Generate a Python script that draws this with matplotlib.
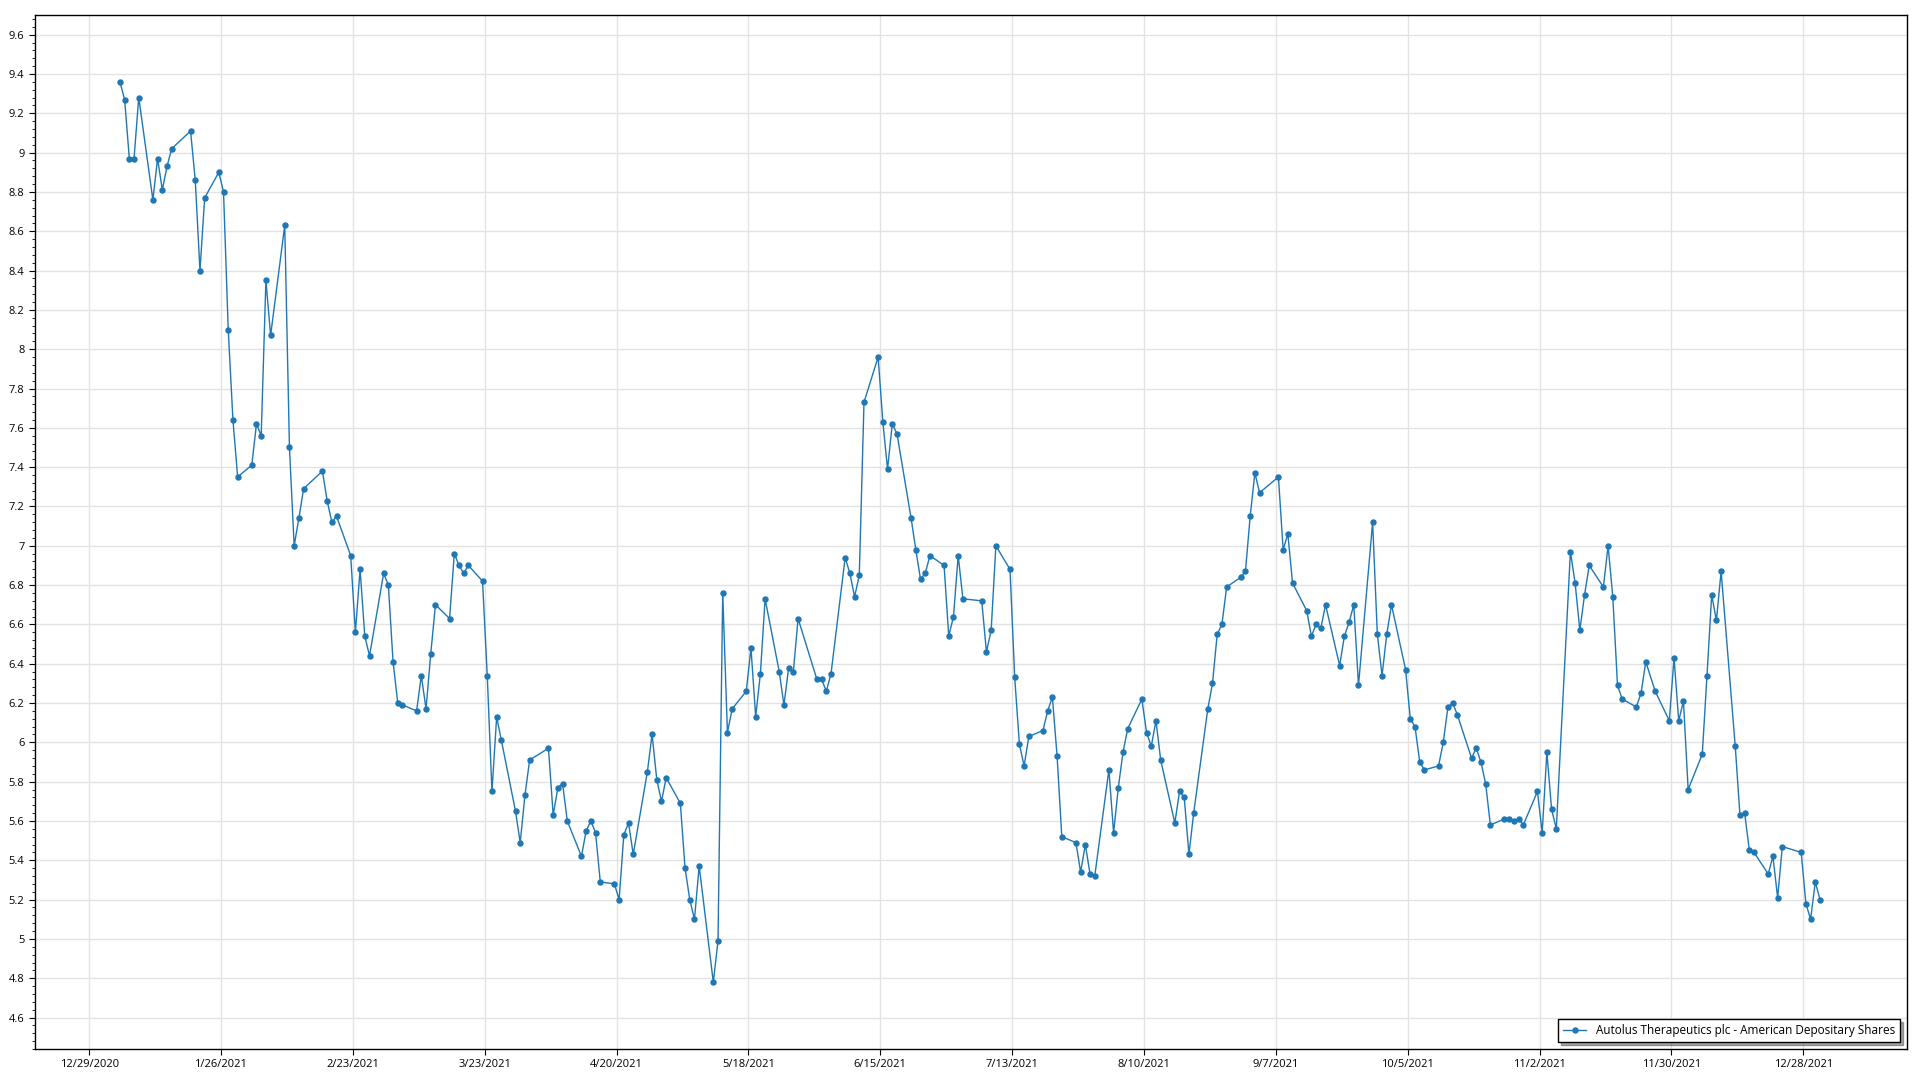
import matplotlib
matplotlib.use('Agg')
import matplotlib.pyplot as plt
import matplotlib.ticker as mticker
import matplotlib.dates as mdates
import pandas as pd

# 2021 US market holidays (no quotes on these days)
holidays = ['2021-01-01', '2021-01-18', '2021-02-15', '2021-04-02', '2021-05-31',
            '2021-07-05', '2021-09-06', '2021-11-25', '2021-12-24']

series_name = 'Autolus Therapeutics plc - American Depositary Shares'

jan = [9.36, 9.27, 8.97, 8.97, 9.28, 8.76, 8.97, 8.81, 8.93, 9.02, 9.11, 8.86, 8.40, 8.77, 8.90,
       8.80, 8.10, 7.64, 7.35]
feb = [7.41, 7.62, 7.56, 8.35, 8.07, 8.63, 7.50, 7.00, 7.14, 7.29, 7.38, 7.23, 7.12, 7.15, 6.95,
       6.56, 6.88, 6.54, 6.44]
mar = [6.86, 6.80, 6.41, 6.20, 6.19, 6.16, 6.34, 6.17, 6.45, 6.70, 6.63, 6.96, 6.90, 6.86, 6.90,
       6.82, 6.34, 5.75, 6.13, 6.01, 5.65, 5.49, 5.73]
apr = [5.91, 5.97, 5.63, 5.77, 5.79, 5.60, 5.42, 5.55, 5.60, 5.54, 5.29, 5.28, 5.20, 5.53, 5.59,
       5.43, 5.85, 6.04, 5.81, 5.70, 5.82]
may = [5.69, 5.36, 5.20, 5.10, 5.37, 4.78, 4.99, 6.76, 6.05, 6.17, 6.26, 6.48, 6.13, 6.35, 6.73,
       6.36, 6.19, 6.38, 6.36, 6.63]
jun = [6.32, 6.32, 6.26, 6.35, 6.94, 6.86, 6.74, 6.85, 7.73, 7.96, 7.63, 7.39, 7.62, 7.57, 7.14,
       6.98, 6.83, 6.86, 6.95, 6.90, 6.54, 6.64]
jul = [6.95, 6.73, 6.72, 6.46, 6.57, 7.00, 6.88, 6.33, 5.99, 5.88, 6.03, 6.06, 6.16, 6.23, 5.93,
       5.52, 5.49, 5.34, 5.48, 5.33, 5.32]
aug = [5.86, 5.54, 5.77, 5.95, 6.07, 6.22, 6.05, 5.98, 6.11, 5.91, 5.59, 5.75, 5.72, 5.43, 5.64,
       6.17, 6.30, 6.55, 6.60, 6.79, 6.84, 6.87]
sep = [7.15, 7.37, 7.27, 7.35, 6.98, 7.06, 6.81, 6.67, 6.54, 6.60, 6.58, 6.70, 6.39, 6.54, 6.61,
       6.70, 6.29, 7.12, 6.55, 6.34, 6.55]
oct_ = [6.70, 6.37, 6.12, 6.08, 5.90, 5.86, 5.88, 6.00, 6.18, 6.20, 6.14, 5.92, 5.97, 5.90, 5.79,
        5.58, 5.61, 5.61, 5.60, 5.61, 5.58]
nov = [5.75, 5.54, 5.95, 5.66, 5.56, 6.97, 6.81, 6.57, 6.75, 6.90, 6.79, 7.00, 6.74, 6.29, 6.22,
       6.18, 6.25, 6.41, 6.26, 6.11, 6.43]
dec = [6.11, 6.21, 5.76, 5.94, 6.34, 6.75, 6.62, 6.87, 5.98, 5.63, 5.64, 5.45, 5.44, 5.33, 5.42,
       5.21, 5.47, 5.44, 5.18, 5.10, 5.29, 5.20]

prices = jan + feb + mar + apr + may + jun + jul + aug + sep + oct_ + nov + dec
dates = pd.bdate_range('2021-01-04', '2021-12-31', freq='C', holidays=holidays)
assert len(dates) == len(prices)

plt.rcParams['font.family'] = ['Open Sans', 'DejaVu Sans']

fig = plt.figure(figsize=(19.2, 10.8), dpi=100)
ax = fig.add_axes([0.0182, 0.0287, 0.975, 0.9574])

# quotes are stamped a little after midnight of the tick day
x = dates + pd.Timedelta(hours=13)
ax.plot(x, prices, color='#1f77b4', linewidth=1.0, marker='o', markersize=3.6,
        label=series_name)

ax.set_ylim(4.44, 9.70)
ax.set_xlim(pd.Timestamp('2020-12-17 12:00'), pd.Timestamp('2022-01-19'))

ax.yaxis.set_major_locator(mticker.MultipleLocator(0.2))
ax.yaxis.set_minor_locator(mticker.MultipleLocator(0.04))
ax.yaxis.set_major_formatter(mticker.FuncFormatter(lambda v, p: '{:g}'.format(round(v, 2))))

xticks = pd.date_range('2020-12-29', '2021-12-28', freq='28D')
ax.set_xticks(xticks)
ax.set_xticklabels([f'{d.month}/{d.day}/{d.year}' for d in xticks])

ax.grid(True, which='major', color='#e3e3e3', linewidth=1.0)
ax.set_axisbelow(True)
ax.tick_params(axis='both', which='major', labelsize=8, length=4, color='black')
ax.tick_params(axis='y', which='minor', length=2)
for s in ax.spines.values():
    s.set_color('black')
    s.set_linewidth(1.0)

leg = ax.legend(loc='lower right', fontsize=8.5, fancybox=False, shadow=True,
                framealpha=1, edgecolor='black', borderaxespad=0.6)
leg.get_frame().set_linewidth(1.0)

fig.savefig('out.png', dpi=100)
